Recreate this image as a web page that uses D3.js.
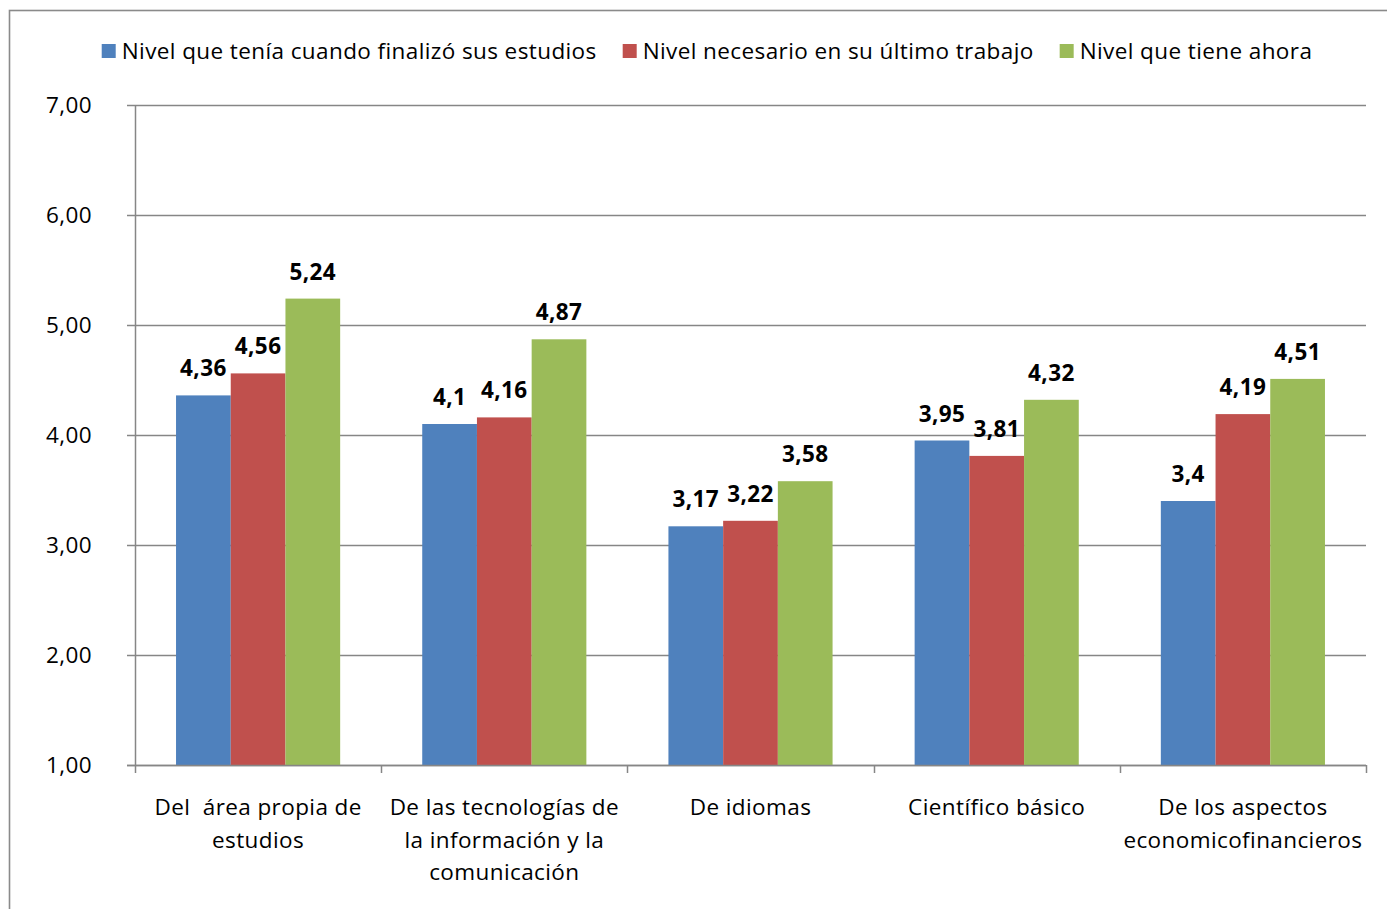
<!DOCTYPE html>
<html>
<head>
<meta charset="utf-8">
<script src="https://cdn.jsdelivr.net/npm/d3@7/dist/d3.min.js"></script>
<style>
  html, body { margin: 0; padding: 0; background: #fff; }
  svg { display: block; font-family: "Open Sans", Lato, sans-serif; }
  svg text { letter-spacing: 0.4px; }
</style>
</head>
<body>
<svg id="chart" width="1387" height="909"></svg>
<script>
// Competency categories (x axis), each label split into lines
const categories = [
  ["Del  área propia de", "estudios"],
  ["De las tecnologías de", "la información y la", "comunicación"],
  ["De idiomas"],
  ["Científico básico"],
  ["De los aspectos", "economicofinancieros"]
];

const seriesNames = [
  "Nivel que tenía cuando finalizó sus estudios",
  "Nivel necesario en su último trabajo",
  "Nivel que tiene ahora"
];

const nivelAlFinalizar = [4.36, 4.1, 3.17, 3.95, 3.4];
const nivelNecesario   = [4.56, 4.16, 3.22, 3.81, 4.19];
const nivelActual      = [5.24, 4.87, 3.58, 4.32, 4.51];

const valueLabels = [
  ["4,36", "4,1", "3,17", "3,95", "3,4"],
  ["4,56", "4,16", "3,22", "3,81", "4,19"],
  ["5,24", "4,87", "3,58", "4,32", "4,51"]
];

const yTicks = [1, 2, 3, 4, 5, 6, 7];

const colors = ["#4F81BD", "#C0504D", "#9BBB59"];
const series = [nivelAlFinalizar, nivelNecesario, nivelActual];

const FS = 22.5;

const svg = d3.select("#chart");

// outer chart frame
svg.append("rect")
  .attr("x", 9.5).attr("y", 10.5)
  .attr("width", 1400).attr("height", 920)
  .attr("fill", "none").attr("stroke", "#8a8a8a").attr("stroke-width", 1.6);

const plot = { left: 135, right: 1366, top: 105, bottom: 765 };

const x0 = d3.scaleBand()
  .domain(d3.range(categories.length))
  .range([plot.left, plot.right])
  .paddingInner(0).paddingOuter(0);

// bars touch inside a group; 75% of a bar width left free on each side
const x1 = d3.scaleBand()
  .domain(d3.range(series.length))
  .range([0, x0.bandwidth()])
  .paddingInner(0)
  .paddingOuter(0.75);

const y = d3.scaleLinear().domain([1, 7]).range([plot.bottom, plot.top]);

const fmt = v => d3.format(".2f")(v).replace(".", ",");

// gridlines with small outer tick marks
svg.append("g").selectAll("line")
  .data(yTicks)
  .join("line")
  .attr("x1", plot.left - 8).attr("x2", plot.right)
  .attr("y1", d => Math.round(y(d)) + 0.5).attr("y2", d => Math.round(y(d)) + 0.5)
  .attr("stroke", "#868686").attr("stroke-width", 1.5);

// y tick labels
svg.append("g").selectAll("text")
  .data(yTicks)
  .join("text")
  .attr("x", 92).attr("y", d => y(d))
  .attr("dy", "0.36em")
  .attr("text-anchor", "end")
  .attr("font-size", FS)
  .attr("fill", "#000")
  .text(fmt);

// bars
const groups = svg.append("g").selectAll("g")
  .data(series)
  .join("g")
  .attr("fill", (d, i) => colors[i]);

groups.each(function(vals, si) {
  d3.select(this).selectAll("rect")
    .data(vals)
    .join("rect")
    .attr("x", (v, ci) => x0(ci) + x1(si))
    .attr("width", x1.bandwidth())
    .attr("y", v => y(v))
    .attr("height", v => y(1) - y(v));
});

// value labels above the bars
series.forEach((vals, si) => {
  svg.append("g").selectAll("text")
    .data(vals)
    .join("text")
    .attr("x", (v, ci) => x0(ci) + x1(si) + x1.bandwidth() / 2)
    .attr("y", v => y(v) - 19)
    .attr("text-anchor", "middle")
    .attr("font-size", FS)
    .attr("font-weight", "bold")
    .attr("fill", "#000")
    .text((v, ci) => valueLabels[si][ci]);
});

// y axis line
svg.append("line")
  .attr("x1", plot.left + 0.5).attr("x2", plot.left + 0.5)
  .attr("y1", plot.top).attr("y2", plot.bottom)
  .attr("stroke", "#868686").attr("stroke-width", 1.5);

// x axis line and category boundary ticks
svg.append("line")
  .attr("x1", plot.left - 8).attr("x2", plot.right)
  .attr("y1", plot.bottom + 0.5).attr("y2", plot.bottom + 0.5)
  .attr("stroke", "#868686").attr("stroke-width", 1.5);

const bounds = d3.range(categories.length + 1).map(i => plot.left + i * x0.step());
svg.append("g").selectAll("line")
  .data(bounds)
  .join("line")
  .attr("x1", d => Math.round(d) + 0.5).attr("x2", d => Math.round(d) + 0.5)
  .attr("y1", plot.bottom).attr("y2", plot.bottom + 8)
  .attr("stroke", "#868686").attr("stroke-width", 1.5);

// category labels
const catG = svg.append("g");
categories.forEach((lines, ci) => {
  const t = catG.append("text")
    .attr("x", x0(ci) + x0.bandwidth() / 2)
    .attr("y", 815)
    .attr("text-anchor", "middle")
    .attr("font-size", FS)
    .attr("fill", "#000")
    .style("white-space", "pre");
  lines.forEach((ln, li) => {
    t.append("tspan")
      .attr("x", x0(ci) + x0.bandwidth() / 2)
      .attr("y", 815 + li * 32.5)
      .text(ln);
  });
});

// legend, centred above the plot
const legend = svg.append("g");
const items = seriesNames.map((name, i) => {
  const g = legend.append("g");
  g.append("rect").attr("x", 0).attr("y", -7).attr("width", 14).attr("height", 14)
    .attr("fill", colors[i]);
  const t = g.append("text").attr("x", 20).attr("y", 0).attr("dy", "0.36em")
    .attr("font-size", FS).attr("fill", "#000").text(name);
  return { g, w: 20 + t.node().getComputedTextLength() };
});
const gap = 26;
const total = d3.sum(items, d => d.w) + gap * (items.length - 1);
let cx = 707 - total / 2;
items.forEach(it => {
  it.g.attr("transform", `translate(${cx},51)`);
  cx += it.w + gap;
});
</script>
</body>
</html>
